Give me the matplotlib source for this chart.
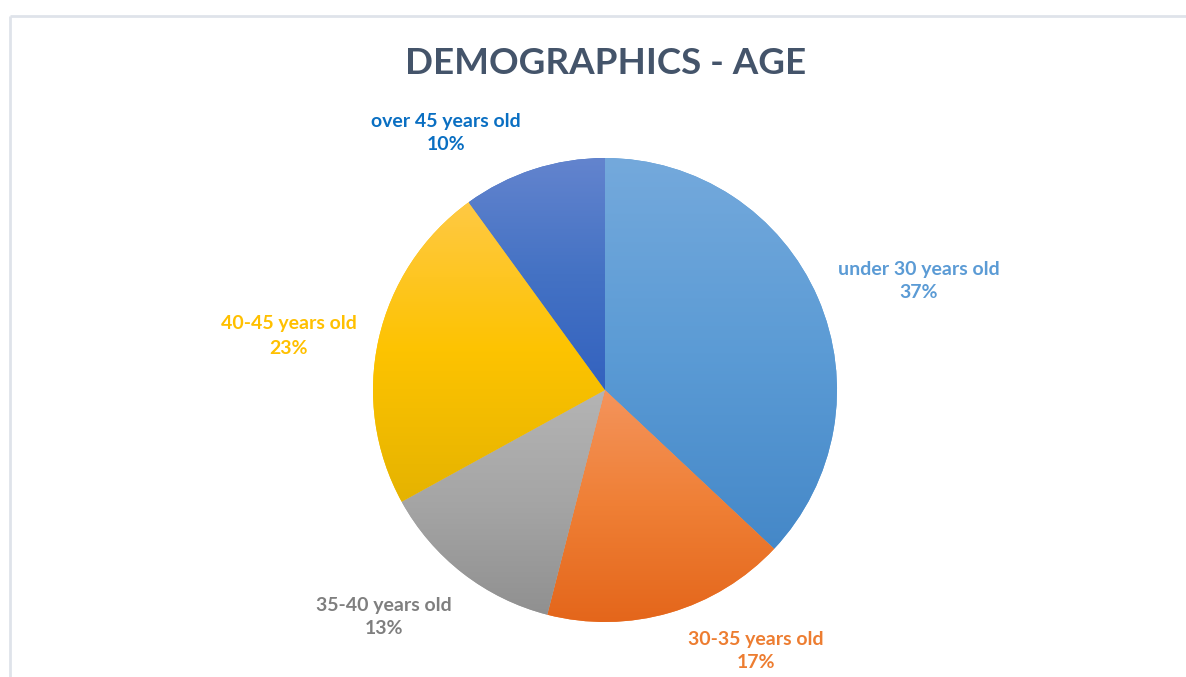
import numpy as np
import matplotlib
matplotlib.use("Agg")
import matplotlib.pyplot as plt
from matplotlib.colors import to_rgb

# Age distribution of respondents
categories = ["under 30 years old", "30-35 years old", "35-40 years old",
              "40-45 years old", "over 45 years old"]
shares = [37, 17, 13, 23, 10]

# Slice fills: vertical gradient (lighter top, base middle, darker bottom)
grad_top = ["#74a9dc", "#f4945c", "#b4b4b4", "#ffc944", "#6384ce"]
grad_mid = ["#5b9bd5", "#ef7f35", "#a5a5a5", "#fdc300", "#4472c4"]
grad_bottom = ["#4588c8", "#e4661b", "#909090", "#e5b300", "#3362bf"]
label_colors = ["#5b9bd5", "#ed7d31", "#7f7f7f", "#ffc000", "#0a6fc2"]

W, H = 1186, 677
fig = plt.figure(figsize=(W / 100, H / 100), dpi=100)
ax = fig.add_axes([0, 0, 1, 1])

cx, cy, r = 605, H - 390, 232
wedges, _ = ax.pie(shares, startangle=90, counterclock=False,
                   center=(cx, cy), radius=r,
                   wedgeprops=dict(linewidth=0))
ax.set_aspect("auto")
ax.axis("off")

# Gradient fill clipped to each wedge
n = 256
f = np.linspace(0, 1, n)
for w, ct, cm, cb in zip(wedges, grad_top, grad_mid, grad_bottom):
    t = np.radians(np.linspace(w.theta1, w.theta2, 200))
    xs = np.concatenate([[cx], cx + r * np.cos(t)])
    ys = np.concatenate([[cy], cy + r * np.sin(t)])
    x0, x1, y0, y1 = xs.min(), xs.max(), ys.min(), ys.max()
    stops = np.array([to_rgb(ct), to_rgb(cm), to_rgb(cb)])
    img = np.stack([np.interp(f, [0, 0.5, 1], stops[:, k]) for k in range(3)],
                   axis=-1)[:, None, :]
    im = ax.imshow(img, extent=(x0, x1, y0, y1), origin="upper",
                   aspect="auto", interpolation="bilinear", zorder=2)
    im.set_clip_path(w)
    w.set_facecolor(cm)

ax.set_xlim(0, W)
ax.set_ylim(0, H)

# Chart frame
frame_c = "#dfe3ea"
ax.plot([10, 10], [H - 16, -5], color=frame_c, lw=2, solid_capstyle="butt", zorder=1)
ax.plot([10, W + 5], [H - 16, H - 16], color=frame_c, lw=2, solid_capstyle="butt", zorder=1)

font = "Lato"
ax.text(606, H - 63, "DEMOGRAPHICS - AGE", ha="center", va="center",
        fontsize=26.5, fontweight="bold", color="#44546a", family=font)

label_pos = [(919, 281), (756, 651), (384, 617), (289, 336), (446, 133)]
for (lx, ly), cat, s, col in zip(label_pos, categories, shares, label_colors):
    ax.text(lx, H - ly, f"{cat}\n{s}%", ha="center", va="center",
            fontsize=14, fontweight="bold", color=col, family=font,
            linespacing=1.5)

fig.savefig("out.png", dpi=100)
